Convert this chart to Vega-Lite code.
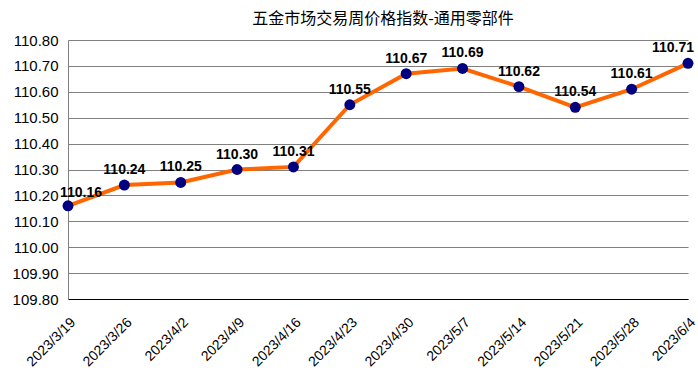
{
  "$schema": "https://vega.github.io/schema/vega-lite/v6.json",
  "width": 620,
  "height": 259,
  "autosize": {"type": "none"},
  "padding": {"left": 68, "top": 40, "right": 10, "bottom": 86},
  "background": "white",
  "config": {"view": {"stroke": null}},
  "title": {
    "text": "五金市场交易周价格指数-通用零部件",
    "font": "Noto Sans CJK SC",
    "fontSize": 16,
    "fontWeight": "normal",
    "color": "#000000",
    "anchor": "middle",
    "dx": 5,
    "offset": 6
  },
  "data": {
    "values": [
      {"date": "2023/3/19", "value": 110.16},
      {"date": "2023/3/26", "value": 110.24},
      {"date": "2023/4/2", "value": 110.25},
      {"date": "2023/4/9", "value": 110.30},
      {"date": "2023/4/16", "value": 110.31},
      {"date": "2023/4/23", "value": 110.55},
      {"date": "2023/4/30", "value": 110.67},
      {"date": "2023/5/7", "value": 110.69},
      {"date": "2023/5/14", "value": 110.62},
      {"date": "2023/5/21", "value": 110.54},
      {"date": "2023/5/28", "value": 110.61},
      {"date": "2023/6/4", "value": 110.71}
    ]
  },
  "encoding": {
    "x": {
      "field": "date",
      "type": "ordinal",
      "sort": null,
      "scale": {"type": "point", "padding": 0},
      "axis": {
        "title": null,
        "labelAngle": -45,
        "labelAlign": "right",
        "labelBaseline": "top",
        "labelPadding": 16,
        "labelFont": "Liberation Sans",
        "labelFontSize": 14,
        "labelColor": "#000000",
        "ticks": false,
        "grid": false,
        "domainColor": "#000000",
        "domainWidth": 1
      }
    },
    "y": {
      "field": "value",
      "type": "quantitative",
      "scale": {"domain": [109.8, 110.8], "nice": false, "zero": false},
      "axis": {
        "title": null,
        "values": [109.8, 109.9, 110.0, 110.1, 110.2, 110.3, 110.4, 110.5, 110.6, 110.7, 110.8],
        "format": ".2f",
        "labelFont": "Liberation Sans",
        "labelFontSize": 15,
        "labelColor": "#000000",
        "labelPadding": 10,
        "ticks": false,
        "grid": true,
        "gridColor": "#808080",
        "gridWidth": 1,
        "domainColor": "#808080",
        "domainWidth": 1
      }
    }
  },
  "layer": [
    {"mark": {"type": "line", "color": "#FF6600", "strokeWidth": 4}},
    {"mark": {"type": "point", "filled": true, "color": "#000080", "opacity": 1, "size": 120}},
    {
      "transform": [{"filter": "datum.date != '2023/3/19' && datum.date != '2023/6/4'"}],
      "mark": {"type": "text", "font": "Liberation Sans", "fontSize": 14, "fontWeight": "bold", "color": "#000000", "baseline": "alphabetic", "dy": -11},
      "encoding": {"text": {"field": "value", "type": "quantitative", "format": ".2f"}}
    },
    {
      "transform": [{"filter": "datum.date == '2023/3/19'"}],
      "mark": {"type": "text", "font": "Liberation Sans", "fontSize": 14, "fontWeight": "bold", "color": "#000000", "baseline": "alphabetic", "dy": -9, "dx": 13},
      "encoding": {"text": {"field": "value", "type": "quantitative", "format": ".2f"}}
    },
    {
      "transform": [{"filter": "datum.date == '2023/6/4'"}],
      "mark": {"type": "text", "font": "Liberation Sans", "fontSize": 14, "fontWeight": "bold", "color": "#000000", "baseline": "alphabetic", "dy": -11, "dx": -15},
      "encoding": {"text": {"field": "value", "type": "quantitative", "format": ".2f"}}
    }
  ]
}
